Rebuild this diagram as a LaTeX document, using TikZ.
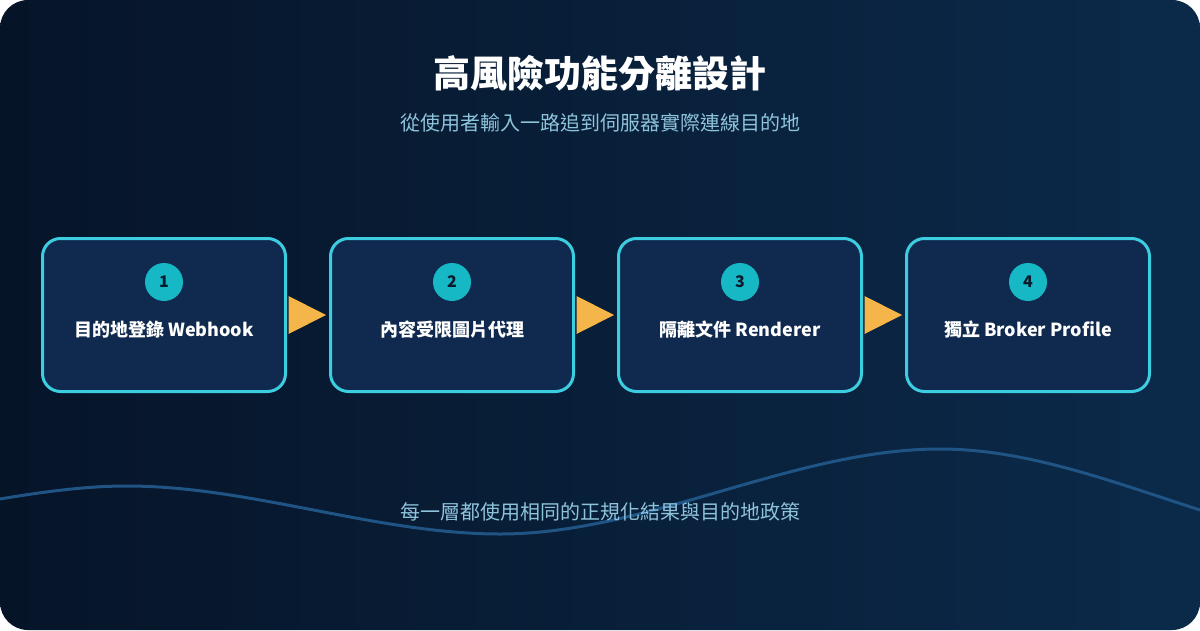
\documentclass[tikz,border=0pt]{standalone}
\usepackage{fontspec}
\setmainfont{Noto Sans CJK TC}
\usetikzlibrary{calc}
\definecolor{bgleft}{RGB}{6,20,40}
\definecolor{bgright}{RGB}{11,42,74}
\definecolor{boxfill}{RGB}{15,42,78}
\definecolor{boxline}{RGB}{60,205,224}
\definecolor{badgefill}{RGB}{22,184,198}
\definecolor{badgetext}{RGB}{8,26,46}
\definecolor{arrowfill}{RGB}{244,182,74}
\definecolor{softblue}{RGB}{142,195,220}
\definecolor{wavecol}{RGB}{31,84,132}
\begin{document}
\begin{tikzpicture}[x=1pt,y=-1pt,
	stage/.style={draw=boxline,fill=boxfill,line width=3pt,rounded corners=18pt,
		minimum width=243pt,minimum height=153pt,inner sep=0pt},
	badge/.style={circle,fill=badgefill,minimum size=38pt,inner sep=0pt,
		text=badgetext,font=\fontsize{16}{16}\selectfont\bfseries},
	stagelabel/.style={text=white,font=\fontsize{18}{18}\selectfont\bfseries},
	softtext/.style={text=softblue,font=\fontsize{20}{20}\selectfont}]
\useasboundingbox (0,0) rectangle (1200,630);
%% Background card
\fill[white] (0,0) rectangle (1200,630);
\shade[rounded corners=28pt,left color=bgleft,right color=bgright] (0,0) rectangle (1200,630);
%% Wave
\draw[wavecol,line width=3pt] (0,499) .. controls (42,492) and (85,486) .. (127,486)
	.. controls (251,486) and (376,534) .. (500,534)
	.. controls (647,534) and (793,449) .. (940,449)
	.. controls (1027,449) and (1113,482) .. (1200,510);
%% Titles
\node[text=white,font=\fontsize{37}{37}\selectfont\bfseries] (title) at (600,73) {高風險功能分離設計};
\node[softtext] (subtitle) at (600,123) {從使用者輸入一路追到伺服器實際連線目的地};
%% Stages
\foreach \i/\txt in {1/{目的地登錄 Webhook},2/{內容受限圖片代理},3/{隔離文件 Renderer},4/{獨立 Broker Profile}}
{
	\node[stage] (stage\i) at (164+288*\i-288,315) {};
	\node[badge] (badge\i) at (164+288*\i-288,282) {\i};
	\node[stagelabel] (label\i) at (164+288*\i-288,330) {\txt};
}
%% Arrows between stages
\foreach \i/\j in {1/2,2/3,3/4}
	{\fill[arrowfill] ($(stage\i.east)+(1.5,-19)$) -- ($(stage\j.west)+(-3,0)$)
		-- ($(stage\i.east)+(1.5,19)$) -- cycle;}
%% Footer
\node[softtext] (note) at (600,512) {每一層都使用相同的正規化結果與目的地政策};
\end{tikzpicture}
\end{document}
